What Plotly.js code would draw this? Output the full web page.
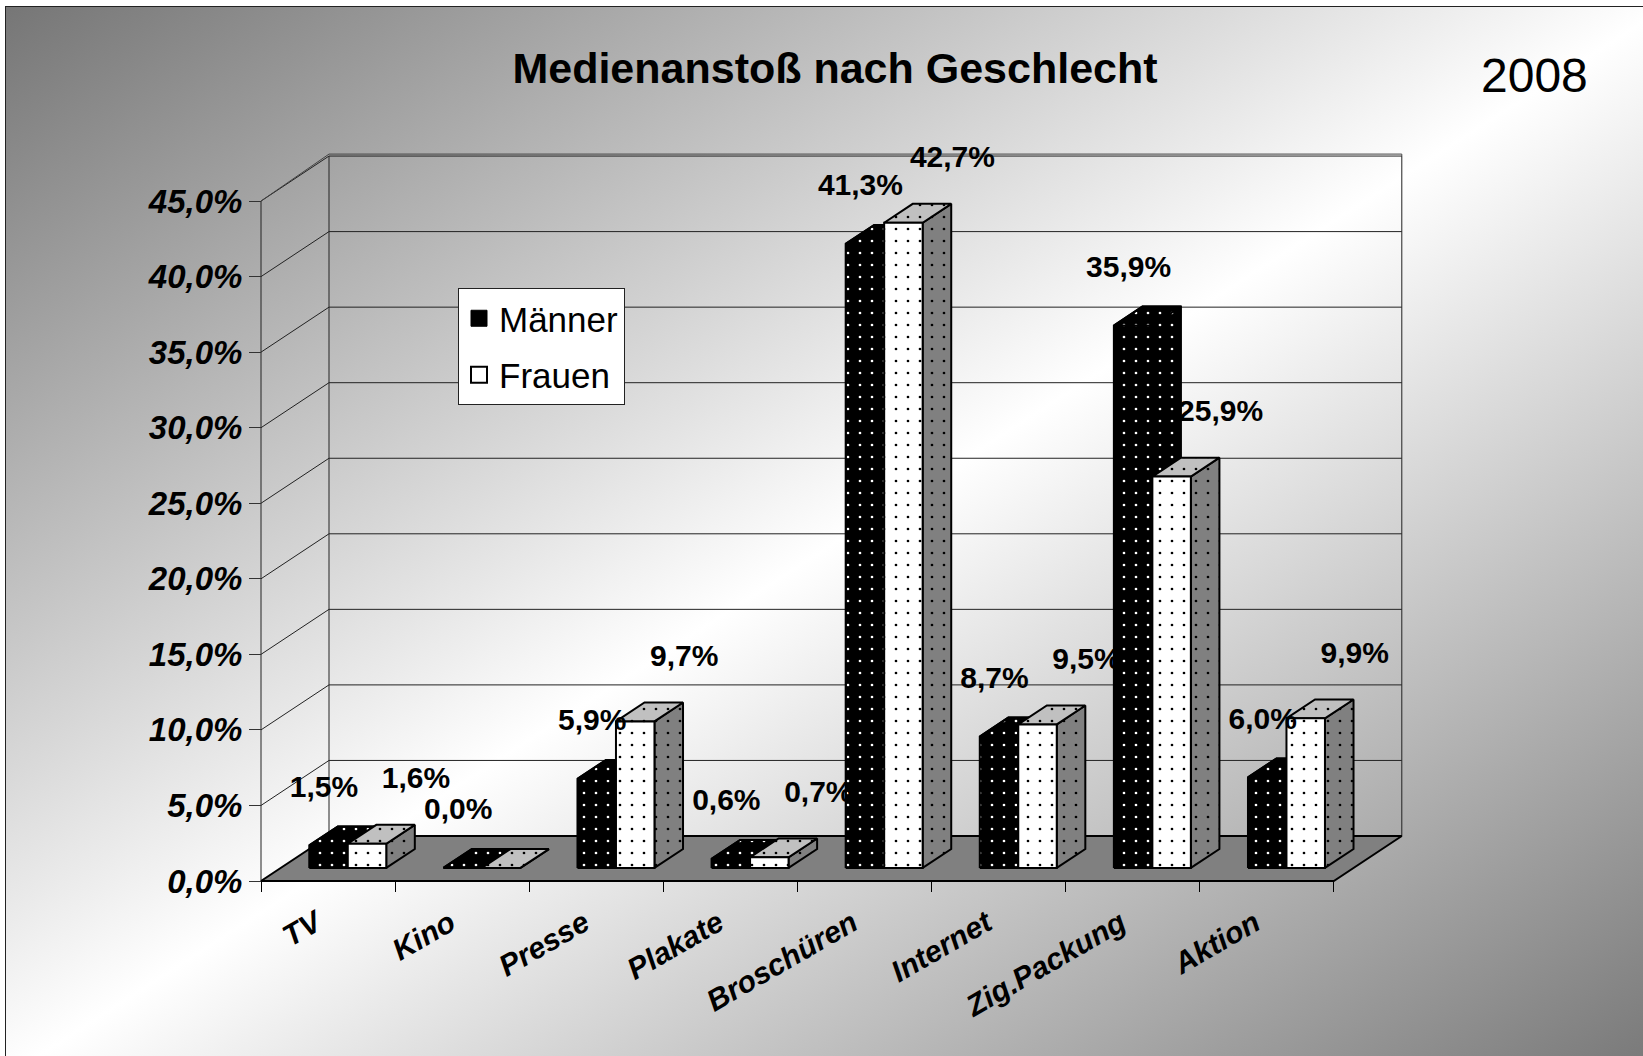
<!DOCTYPE html>
<html><head><meta charset="utf-8">
<script src="https://cdn.plot.ly/plotly-3.0.1.min.js"></script>
<style>
html,body{margin:0;padding:0;overflow:hidden;background:#fff;width:1643px;height:1056px;}
#bg{position:absolute;left:5px;top:6px;width:1660px;height:1070px;border:1px solid #222;
  background:linear-gradient(to bottom right,#767676 0%,#ffffff 50%,#767676 100%);}
#chart{position:absolute;left:0;top:0;width:1643px;height:1056px;}
</style></head><body>
<div id="bg"></div><div id="chart"></div>
<script>
// ---------- data ----------
const categories = ["TV","Kino","Presse","Plakate","Broschüren","Internet","Zig.Packung","Aktion"];
const maenner = [1.5, 0.0, 5.9, 0.6, 41.3, 8.7, 35.9, 6.0];
const frauen  = [1.6, 0.0, 9.7, 0.7, 42.7, 9.5, 25.9, 9.9];
const seriesNames = ["Männer","Frauen"];
const yTickValues = [0,5,10,15,20,25,30,35,40,45];
const frauenLabelHidden = ["Kino"];
const chartTitle = "Medienanstoß nach Geschlecht";
const yearLabel = "2008";

// ---------- geometry (oblique 3D projection in data units) ----------
const PXC = 134.1, PXV = 15.11;          // pixels per category / per percent
const DX = 68 / PXC, DY = 45 / PXV;      // full floor depth in data units
const BAR_W = 0.287, D0 = 0.29, DD = 0.42;
const FONT = '"Liberation Sans", Arial, sans-serif';
const ML = 254, MR = 236, MT = 151, MB = 170;
const W = 1643, H = 1056;
const plotW = W - ML - MR, plotH = H - MT - MB;
const xr0 = -0.5 - (261 - ML) / PXC, xr1 = xr0 + plotW / PXC;
const yr0 = -((H - MB) - 881) / PXV, yr1 = yr0 + plotH / PXV;
const nCat = categories.length;
const fmt = v => v.toFixed(1).replace('.', ',') + '%';

function addPoly(acc, pts) {
  pts.forEach(p => { acc.x.push(p[0]); acc.y.push(p[1]); });
  acc.x.push(pts[0][0]); acc.y.push(pts[0][1]);
  acc.x.push(null); acc.y.push(null);
}
const ddx = DD * DX, ddy = DD * DY;
function barGeom(i, s, v) {
  const xl = i - BAR_W + s * BAR_W + D0 * DX, xr = xl + BAR_W;
  const yb = D0 * DY, yt = v + D0 * DY;
  return {xl, xr, yb, yt};
}

// walls / gridlines
const grid = {x: [], y: []};
const seg = (a, b) => { grid.x.push(a[0], b[0], null); grid.y.push(a[1], b[1], null); };
yTickValues.forEach(v => {
  if (v > 0) seg([-0.5 + DX, v + DY], [nCat - 0.5 + DX, v + DY]);
  if (v > 0) seg([-0.5, v], [-0.5 + DX, v + DY]);
});
const vMax = yTickValues[yTickValues.length - 1];
seg([-0.5 + DX, DY], [-0.5 + DX, vMax + DY]);
seg([nCat - 0.5 + DX, DY], [nCat - 0.5 + DX, vMax + DY]);
seg([-0.5, 0], [-0.5, vMax]);
const topBorder = {x: [-0.5, -0.5 + DX, nCat - 0.5 + DX, nCat - 0.5 + DX],
                   y: [vMax, vMax + DY + 0.13, vMax + DY + 0.13, vMax + DY]};

const floor = {x: [], y: []};
addPoly(floor, [[-0.5, 0], [nCat - 0.5, 0], [nCat - 0.5 + DX, DY], [-0.5 + DX, DY]]);

// bars
const mPoly = {x: [], y: []}, fSide = {x: [], y: []}, fTop = {x: [], y: []}, fFront = {x: [], y: []};
maenner.forEach((v, i) => {
  const g = barGeom(i, 0, v);
  addPoly(mPoly, [[g.xl, g.yb], [g.xr, g.yb], [g.xr + ddx, g.yb + ddy], [g.xr + ddx, g.yt + ddy],
                  [g.xl + ddx, g.yt + ddy], [g.xl, g.yt]]);
  addPoly(mPoly, [[g.xl, g.yt], [g.xr, g.yt], [g.xr + ddx, g.yt + ddy], [g.xl + ddx, g.yt + ddy]]);
});
frauen.forEach((v, i) => {
  const g = barGeom(i, 1, v);
  addPoly(fSide, [[g.xr, g.yb], [g.xr + ddx, g.yb + ddy], [g.xr + ddx, g.yt + ddy], [g.xr, g.yt]]);
  addPoly(fTop, [[g.xl, g.yt], [g.xr, g.yt], [g.xr + ddx, g.yt + ddy], [g.xl + ddx, g.yt + ddy]]);
  addPoly(fFront, [[g.xl, g.yb], [g.xr, g.yb], [g.xr, g.yt], [g.xl, g.yt]]);
});

const pat = (bg, fg) => ({shape: '.', bgcolor: bg, fgcolor: fg, fgopacity: 1, size: 12, solidity: 0.04, fillmode: 'replace'});
const edge = {color: '#000', width: 2};
const poly = (d, bg, fg) => ({type: 'scatter', mode: 'lines', x: d.x, y: d.y, fill: 'toself',
  fillcolor: bg, fillpattern: pat(bg, fg), line: edge, showlegend: false, hoverinfo: 'skip'});

const labelFont = {family: FONT, size: 30, weight: 'bold', color: '#000'};
const traces = [
  {type: 'scatter', mode: 'lines', x: grid.x, y: grid.y, line: {color: '#222', width: 1}, showlegend: false, hoverinfo: 'skip'},
  {type: 'scatter', mode: 'lines', x: topBorder.x, y: topBorder.y, line: {color: '#444', width: 1}, showlegend: false, hoverinfo: 'skip'},
  {type: 'scatter', mode: 'lines', x: floor.x, y: floor.y, fill: 'toself', fillcolor: '#808080',
   line: {color: '#000', width: 2}, showlegend: false, hoverinfo: 'skip'},
  poly(mPoly, '#000000', '#ffffff'),
  poly(fSide, '#808080', '#000000'),
  poly(fTop, '#c0c0c0', '#000000'),
  poly(fFront, '#ffffff', '#000000'),
  // data labels
  {type: 'scatter', mode: 'text', cliponaxis: false, showlegend: false, hoverinfo: 'skip',
   x: maenner.map((v, i) => i - 4 / PXC), y: maenner.map(v => v + D0 * DY + 56 / PXV),
   text: maenner.map(fmt), textposition: 'middle center', textfont: labelFont},
  {type: 'scatter', mode: 'text', cliponaxis: false, showlegend: false, hoverinfo: 'skip',
   x: frauen.map((v, i) => i + 88 / PXC), y: frauen.map(v => v + D0 * DY + 63 / PXV),
   text: frauen.map((v, i) => frauenLabelHidden.includes(categories[i]) ? '' : fmt(v)),
   textposition: 'middle center', textfont: labelFont},
  // legend entries
  {type: 'scatter', mode: 'markers', x: [null], y: [null], name: seriesNames[0], legendgroup: 'm',
   marker: {symbol: 'square', size: 20, color: '#000', line: {color: '#000', width: 1}}},
  {type: 'scatter', mode: 'markers', x: [null], y: [null], name: seriesNames[1], legendgroup: 'f',
   marker: {symbol: 'square', size: 20, color: '#fff', line: {color: '#000', width: 2}}}
];

const tickFont = {family: FONT, weight: 'bold', style: 'italic', color: '#000'};
const layout = {
  width: W, height: H,
  margin: {l: ML, r: MR, t: MT, b: MB, pad: 0},
  paper_bgcolor: 'rgba(0,0,0,0)', plot_bgcolor: 'rgba(0,0,0,0)',
  hovermode: false,
  title: {text: chartTitle, font: {family: FONT, size: 43, weight: 'bold', color: '#000'},
          x: 835 / W, xref: 'container', xanchor: 'center', y: 1 - 68 / H, yref: 'container', yanchor: 'middle'},
  xaxis: {type: 'linear', range: [xr0, xr1], tickmode: 'array',
          tickvals: categories.map((c, i) => i), ticktext: categories,
          tickangle: -30, ticks: '', tickfont: Object.assign({size: 30}, tickFont),
          showgrid: false, zeroline: false, showline: false,
          anchor: 'free', position: ((H - MB) - 881) / plotH,
          ticklabelstandoff: 18, ticklabelshift: -12,
          minor: {tickmode: 'array', tickvals: Array.from({length: nCat + 1}, (_, k) => k - 0.5),
                  ticks: 'outside', ticklen: 10, tickwidth: 1, tickcolor: '#000', showgrid: false}},
  yaxis: {type: 'linear', range: [yr0, yr1], tickmode: 'array', tickvals: yTickValues,
          ticktext: yTickValues.map(fmt), ticks: 'outside', ticklen: 12, tickwidth: 1, tickcolor: '#333',
          tickfont: Object.assign({size: 33}, tickFont), showgrid: false, zeroline: false, showline: false,
          anchor: 'free', position: (261 - ML) / plotW},
  showlegend: true,
  legend: {x: (458 - ML) / plotW, y: ((H - MB) - 288) / plotH, xanchor: 'left', yanchor: 'top',
           bgcolor: '#ffffff', bordercolor: '#222', borderwidth: 1, tracegroupgap: 8,
           font: {family: FONT, size: 35, color: '#000'}},
  annotations: [{text: yearLabel, xref: 'paper', yref: 'paper', x: (1534 - ML) / plotW, y: ((H - MB) - 75) / plotH,
                 xanchor: 'center', yanchor: 'middle', showarrow: false,
                 font: {family: FONT, size: 48, color: '#000'}}]
};
Plotly.newPlot('chart', traces, layout, {displayModeBar: false, staticPlot: true});
</script></body></html>
